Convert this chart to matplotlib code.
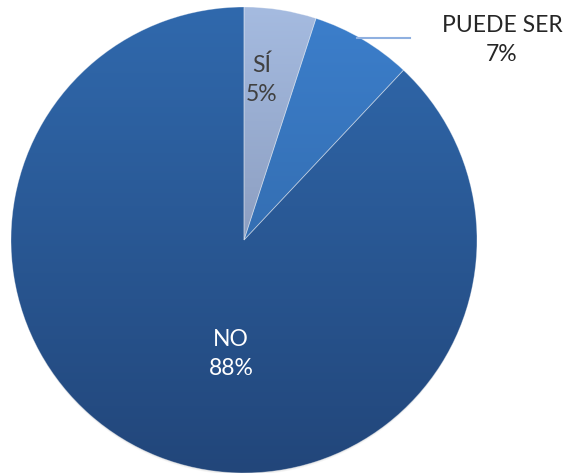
import numpy as np
import matplotlib.pyplot as plt
from matplotlib.colors import LinearSegmentedColormap
from matplotlib.patches import Circle

# data
labels = ["SÍ", "PUEDE SER", "NO"]
values = [5, 7, 88]
pct_labels = ["5%", "7%", "88%"]
top_colors = ["#a5bbe0", "#3c7fcc", "#3069ad"]
bottom_colors = ["#7482a2", "#2c5e99", "#22467a"]
text_colors = ["#404040", "#262626", "#ffffff"]

W, H = 566, 473
fig = plt.figure(figsize=(W / 100, H / 100), dpi=100)
ax = fig.add_axes([0, 0, 1, 1])

cx, cy, r = 244, H - 240, 233

# faint shadow under the pie
for k, a in [(3, 0.04), (2, 0.05)]:
    ax.add_patch(Circle((cx, cy - k), r - 1, color="black", alpha=a, lw=0, zorder=0.1))

wedges, _ = ax.pie(values, startangle=90, counterclock=False, center=(cx, cy), radius=r,
                   frame=True, wedgeprops=dict(linewidth=0.6, edgecolor=(1, 1, 1, 0.35)))

# vertical gradient fill per wedge
grad = np.linspace(0, 1, 256).reshape(-1, 1)
for w, c0, c1 in zip(wedges, top_colors, bottom_colors):
    cmap = LinearSegmentedColormap.from_list("g", [c1, c0])
    w.set_facecolor("none")
    im = ax.imshow(grad, cmap=cmap, extent=(cx - r, cx + r, cy - r, cy + r),
                   origin="lower", aspect="auto", zorder=0.5)
    im.set_clip_path(w)
ax.set_xlim(0, W)
ax.set_ylim(0, H)
ax.set_aspect("equal")
ax.axis("off")

font = ["Lato", "DejaVu Sans"]
fs = 16.5
ls = 1.5
ax.text(262, H - 80, labels[0] + "\n" + pct_labels[0], ha="center", va="center",
        color=text_colors[0], fontsize=fs, family=font, linespacing=ls, zorder=3)
ax.text(502, H - 40, labels[1] + "\n" + pct_labels[1], ha="center", va="center",
        color=text_colors[1], fontsize=fs, family=font, linespacing=ls, zorder=3)
ax.text(231, H - 354, labels[2] + "\n" + pct_labels[2], ha="center", va="center",
        color=text_colors[2], fontsize=fs, family=font, linespacing=ls, zorder=3)

# leader line for PUEDE SER
ax.plot([357, 410], [H - 38, H - 38], color="#8fb0e0", lw=1.5, zorder=3)

plt.savefig("out.png", dpi=100)
